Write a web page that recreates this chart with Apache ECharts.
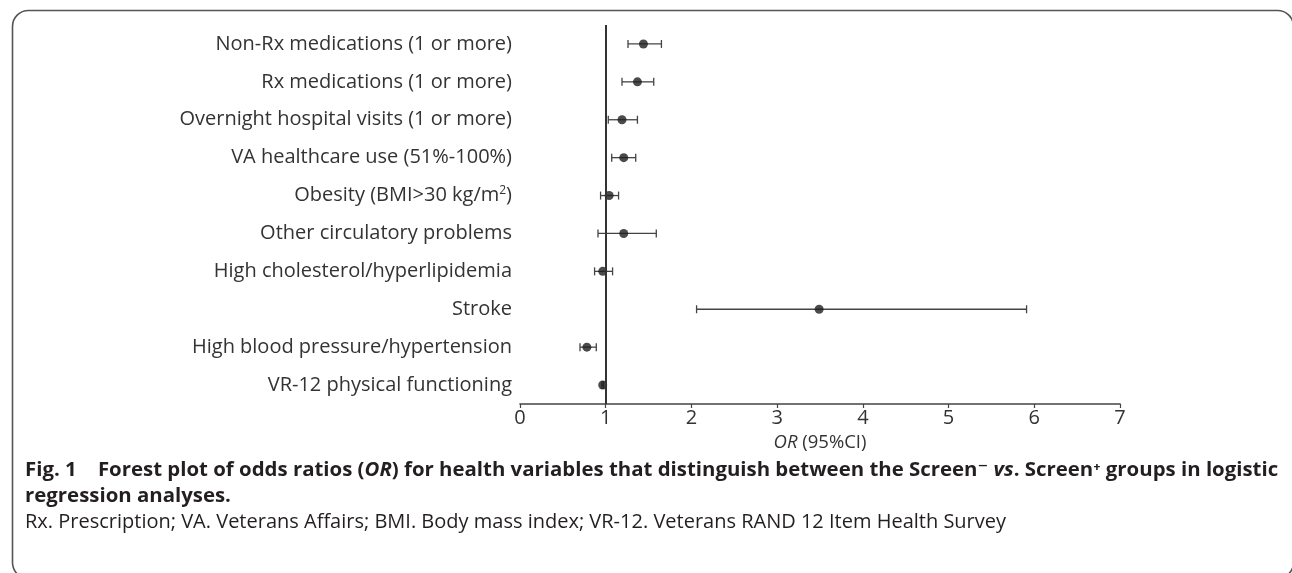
<!DOCTYPE html>
<html>
<head>
<meta charset="utf-8">
<script src="https://cdn.jsdelivr.net/npm/echarts@6/dist/echarts.min.js"></script>
<style>
  html, body { margin: 0; padding: 0; background: #fff; }
  #main { width: 1292px; height: 573px; }
</style>
</head>
<body>
<div id="main"></div>
<script>
// forest plot data, top to bottom
const categories = [
  'Non-Rx medications (1 or more)',
  'Rx medications (1 or more)',
  'Overnight hospital visits (1 or more)',
  'VA healthcare use (51%-100%)',
  'Obesity (BMI>30 kg/m{sup|2})',
  'Other circulatory problems',
  'High cholesterol/hyperlipidemia',
  'Stroke',
  'High blood pressure/hypertension',
  'VR-12 physical functioning'
]
const oddsRatio = [1.44, 1.37, 1.19, 1.21, 1.04, 1.21, 0.965, 3.49, 0.78, 0.965]
const ciLow = [1.26, 1.19, 1.03, 1.07, 0.94, 0.91, 0.87, 2.06, 0.70, 0.955]
const ciHigh = [1.65, 1.56, 1.37, 1.35, 1.15, 1.59, 1.08, 5.91, 0.89, 0.975]
const xTicks = [0, 1, 2, 3, 4, 5, 6, 7]

const textColor = '#333'
const capColor = '#231f20'
const font = '"Open Sans", "DejaVu Sans", sans-serif'

const chart = echarts.init(document.getElementById('main'))

const option = {
  animation: false,
  backgroundColor: '#fff',
  grid: { left: 520, right: 172, top: 25, height: 379 },
  xAxis: {
    type: 'value',
    min: xTicks[0],
    max: xTicks[xTicks.length - 1],
    interval: 1,
    name: '{i|OR} (95%CI)',
    nameLocation: 'middle',
    nameGap: 24,
    nameTextStyle: {
      color: textColor,
      fontSize: 18.5,
      fontFamily: font,
      rich: { i: { fontStyle: 'italic', fontSize: 18.5, fontFamily: font, color: textColor } }
    },
    splitLine: { show: false },
    axisLine: { show: true, lineStyle: { color: '#444', width: 1.6 } },
    axisTick: { show: true, length: 4, lineStyle: { color: '#444', width: 1.2 } },
    axisLabel: { color: textColor, fontSize: 20, fontFamily: font, margin: 4 }
  },
  yAxis: {
    type: 'category',
    inverse: true,
    data: categories,
    axisLine: { show: false },
    axisTick: { show: false },
    axisLabel: {
      color: textColor,
      fontSize: 20,
      fontFamily: font,
      margin: 8,
      rich: {
        sup: { fontSize: 12, verticalAlign: 'top', padding: [0, 0, 9, 0], color: textColor, fontFamily: font }
      }
    }
  },
  series: [
    {
      type: 'custom',
      data: categories.map((c, i) => [i, ciLow[i], ciHigh[i]]),
      renderItem: function (params, api) {
        const row = api.value(0)
        const a = api.coord([api.value(1), row])
        const b = api.coord([api.value(2), row])
        const cap = 4
        const style = { stroke: '#444', lineWidth: 1.3 }
        return {
          type: 'group',
          children: [
            { type: 'line', shape: { x1: a[0], y1: a[1], x2: b[0], y2: b[1] }, style: style },
            { type: 'line', shape: { x1: a[0], y1: a[1] - cap, x2: a[0], y2: a[1] + cap }, style: style },
            { type: 'line', shape: { x1: b[0], y1: b[1] - cap, x2: b[0], y2: b[1] + cap }, style: style }
          ]
        }
      },
      encode: { x: [1, 2], y: 0 },
      z: 2
    },
    {
      type: 'scatter',
      data: oddsRatio.map((v, i) => [v, i]),
      symbolSize: 9,
      itemStyle: { color: '#1e1e1e' },
      z: 4,
      markLine: {
        silent: true,
        symbol: 'none',
        label: { show: false },
        lineStyle: { color: '#333', width: 2, type: 'solid' },
        data: [{ xAxis: 1 }]
      }
    }
  ],
  graphic: [
    {
      type: 'rect',
      left: 10,
      top: 8,
      shape: { width: 1281, height: 568, r: 16 },
      style: { fill: 'none', stroke: '#555', lineWidth: 1.6 },
      silent: true
    },
    {
      type: 'text',
      x: 25,
      y: 470,
      style: {
        text: 'Fig. 1    Forest plot of odds ratios ({i|OR}) for health variables that distinguish between the Screen⁻ {i|vs}. Screen⁺ groups in logistic',
        fill: capColor,
        font: 'bold 20.4px ' + font,
        verticalAlign: 'middle',
        rich: { i: { fontStyle: 'italic', fontWeight: 'bold', fontSize: 20.4, fontFamily: font, fill: capColor } }
      }
    },
    {
      type: 'text',
      x: 25,
      y: 496,
      style: { text: 'regression analyses.', fill: capColor, font: 'bold 20.4px ' + font, verticalAlign: 'middle' }
    },
    {
      type: 'text',
      x: 25,
      y: 522,
      style: {
        text: 'Rx. Prescription; VA. Veterans Affairs; BMI. Body mass index; VR-12. Veterans RAND 12 Item Health Survey',
        fill: capColor,
        font: '20px ' + font,
        verticalAlign: 'middle'
      }
    }
  ]
}

chart.setOption(option)
</script>
</body>
</html>
